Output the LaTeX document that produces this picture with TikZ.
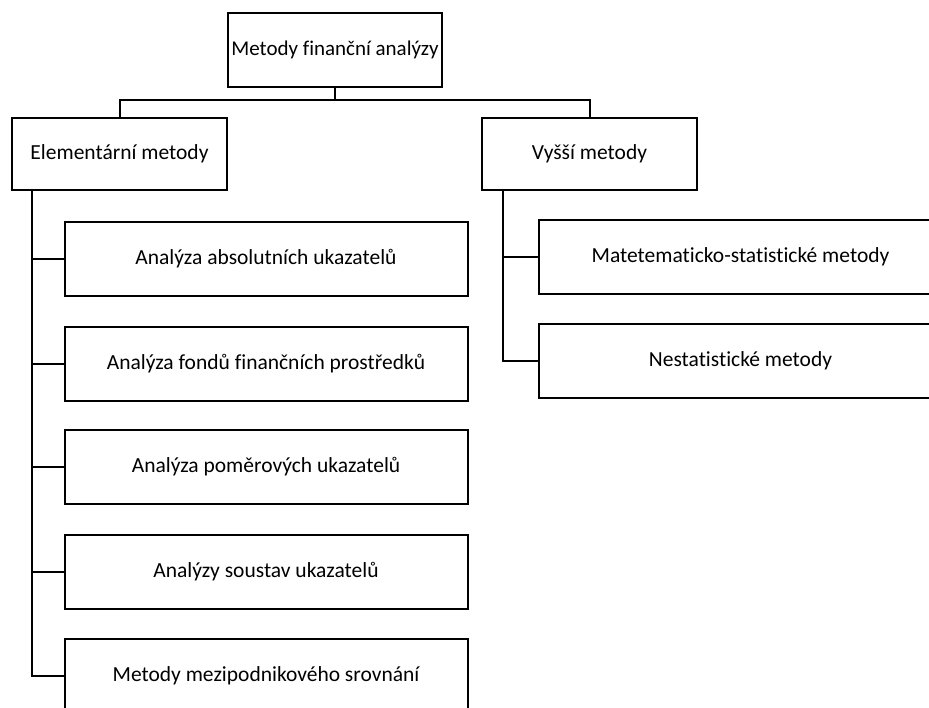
\documentclass[tikz,border=0pt]{standalone}
\usepackage{fontspec}
\setmainfont[Ligatures=NoCommon]{Carlito}
\begin{document}
\begin{tikzpicture}[x=1pt,y=-1pt,
  box/.style={draw=black, line width=2pt, rectangle, inner sep=0pt, align=center,
    font=\fontsize{21.5}{25}\selectfont},
  lvl/.style={box, minimum width=215pt, minimum height=72pt},
  sub/.style={box, minimum width=403pt, minimum height=74pt},
  conn/.style={draw=black, line width=2pt}]
\useasboundingbox (0,0) rectangle (929,707);
\clip (0,0) rectangle (929,707);
\fill[white] (0,0) rectangle (929,707);
\node[box, minimum width=214pt, minimum height=74pt, font=\fontsize{21}{25}\selectfont] (top) at (335,50) {Metody finanční analýzy};
\node[lvl] (elem) at (119.5,154) {Elementární metody};
\node[lvl] (vys) at (589.5,154) {Vyšší metody};
\node[sub] (a1) at (266,259) {Analýza absolutních ukazatelů};
\node[sub] (a2) at (266,363.5) {Analýza fondů finančních prostředků};
\node[sub] (a3) at (266,467) {Analýza poměrových ukazatelů};
\node[sub] (a4) at (266,572) {Analýzy soustav ukazatelů};
\node[sub] (a5) at (266,676) {Metody mezipodnikového srovnání};
\node[sub] (m1) at (740.5,256.5) {Matetematicko-statistické metody};
\node[sub] (m2) at (740.5,361) {Nestatistické metody};
\coordinate (bar) at (0,100);
\draw[conn] (top.south) -- (top.south |- bar);
\draw[conn] (elem.north) -- (elem.north |- bar) -- (vys.north |- bar) -- (vys.north);
\coordinate (ev) at ([xshift=21pt]elem.south west);
\coordinate (vv) at ([xshift=22pt]vys.south west);
\foreach \n in {a1,a2,a3,a4,a5} {\draw[conn] (ev) |- (\n.west);}
\foreach \n in {m1,m2} {\draw[conn] (vv) |- (\n.west);}
\end{tikzpicture}
\end{document}
